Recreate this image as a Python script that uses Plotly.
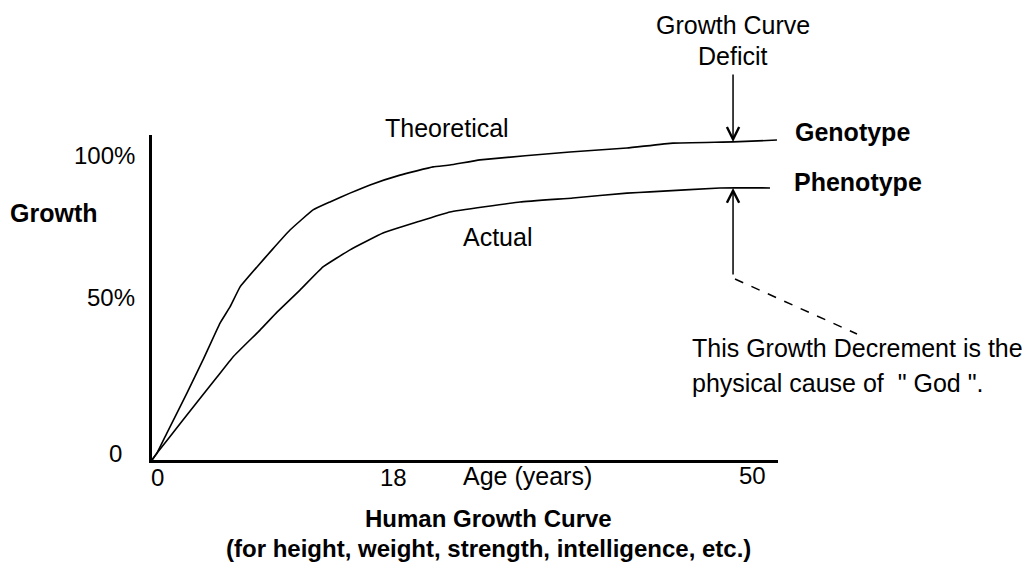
import plotly.graph_objects as go

# ---- data (age in years, growth in % of potential) ----
age_theoretical = [0, 0.42, 1.25, 2.92, 4.25, 5.67, 6.5, 7.33, 8.75, 10.0, 11.5, 13.42,
                   14.83, 16.5, 18.17, 20.67, 23.42, 24.83, 27.33, 34.83, 39.58, 43.42,
                   48.42, 52.08]
growth_theoretical = [0, 2.3, 8.9, 22.0, 32.8, 44.9, 50.2, 56.7, 63.3, 68.9, 75.4, 82.0,
                      84.6, 87.5, 90.2, 93.4, 96.1, 96.7, 98.4, 101.0, 102.3, 103.9,
                      104.3, 104.9]

age_actual = [0, 0.42, 2.58, 5.42, 6.75, 9.0, 10.42, 12.33, 14.25, 16.5, 19.25, 22.08,
              24.83, 30.67, 35.08, 39.58, 41.5, 47.33, 51.5]
growth_actual = [0, 2.3, 13.1, 27.2, 33.8, 42.6, 48.5, 55.7, 63.3, 68.9, 74.4, 78.0,
                 81.3, 84.6, 85.9, 87.5, 87.9, 89.2, 89.2]

x_tick_labels = ["0", "18", "50"]
y_tick_labels = ["0", "50%", "100%"]
deficit_age = 48.42

# ---- layout geometry (pixels of the target picture) ----
W, H = 1030, 571
OX, OY = 8, 8            # page body margin offset
L, R, T, B = 152, 778, 135, 460
PX_PER_YEAR = 12.0
PX_PER_PCT = 3.05
FONT = "Liberation Sans, Arial, sans-serif"


def P(px, py):
    return (px - L) / (R - L), (B - py) / (B - T)


def interp(xs, ys, x):
    for i in range(len(xs) - 1):
        if xs[i] <= x <= xs[i + 1]:
            t = (x - xs[i]) / (xs[i + 1] - xs[i])
            return ys[i] + t * (ys[i + 1] - ys[i])
    return ys[-1]


fig = go.Figure()
fig.add_trace(go.Scatter(x=age_theoretical, y=growth_theoretical, mode="lines",
                         line=dict(color="black", width=1.6, shape="spline", smoothing=0.3),
                         hoverinfo="skip"))
fig.add_trace(go.Scatter(x=age_actual, y=growth_actual, mode="lines",
                         line=dict(color="black", width=1.6, shape="spline", smoothing=0.3),
                         hoverinfo="skip"))

texts = [
    # text, px, py, bold, xanchor, size
    (y_tick_labels[2], 137, 155, False, "right", 24),
    (y_tick_labels[1], 137, 297, False, "right", 24),
    (y_tick_labels[0], 115, 453, False, "center", 24),
    ("Growth", 54, 213, True, "center", 25),
    (x_tick_labels[0], 157, 477, False, "center", 24),
    (x_tick_labels[1], 393, 477, False, "center", 24),
    ("Age (years)", 527, 476, False, "center", 25),
    (x_tick_labels[2], 752, 475, False, "center", 24),
    ("Theoretical", 447, 128, False, "center", 25),
    ("Actual", 497, 237, False, "center", 25),
    ("Genotype", 793, 132, True, "left", 25),
    ("Phenotype", 792, 182, True, "left", 25),
    ("Growth Curve", 733, 25, False, "center", 25),
    ("Deficit", 733, 56, False, "center", 25),
    ("This Growth Decrement is the", 690, 348, False, "left", 25),
    ("physical cause of  \" God \".", 690, 383, False, "left", 25),
    ("Human Growth Curve", 488, 519, True, "center", 24),
    ("(for height, weight, strength, intelligence, etc.)", 488, 548, True, "center", 24),
]
for txt, px, py, bold, xa, fs in texts:
    x, y = P(px, py)
    fig.add_annotation(x=x, y=y, xref="paper", yref="paper",
                       text=("<b>%s</b>" % txt) if bold else txt,
                       showarrow=False, xanchor=xa, yanchor="middle",
                       font=dict(family=FONT, size=fs, color="black"))

# arrows
geno_at = interp(age_theoretical, growth_theoretical, deficit_age)
pheno_at = interp(age_actual, growth_actual, deficit_age)
fig.add_annotation(x=deficit_age, y=geno_at, ax=deficit_age, ay=(B - 73) / PX_PER_PCT,
                   xref="x", yref="y", axref="x", ayref="y", text="", showarrow=True,
                   arrowhead=5, arrowsize=1.6, arrowwidth=1.5, arrowcolor="black", standoff=0)
fig.add_annotation(x=deficit_age, y=pheno_at, ax=deficit_age, ay=(B - 276) / PX_PER_PCT,
                   xref="x", yref="y", axref="x", ayref="y", text="", showarrow=True,
                   arrowhead=5, arrowsize=1.6, arrowwidth=1.5, arrowcolor="black", standoff=0)

x0, y0 = P(735, 279)
x1, y1 = P(857, 334)
fig.add_shape(type="line", xref="paper", yref="paper", x0=x0, y0=y0, x1=x1, y1=y1,
              line=dict(color="black", width=1.5, dash="dash"))

fig.update_layout(
    width=W, height=H,
    margin=dict(l=L - OX, r=W - R + OX, t=T - OY, b=H - B + OY, pad=0),
    paper_bgcolor="white", plot_bgcolor="white",
    showlegend=False,
    xaxis=dict(range=[0, (R - L) / PX_PER_YEAR], showgrid=False, zeroline=False,
               showline=True, linewidth=3, linecolor="black", showticklabels=False,
               ticks="", fixedrange=True),
    yaxis=dict(range=[0, (B - T) / PX_PER_PCT], showgrid=False, zeroline=False,
               showline=True, linewidth=3, linecolor="black", showticklabels=False,
               ticks="", fixedrange=True),
)

fig.write_html("out.html")
